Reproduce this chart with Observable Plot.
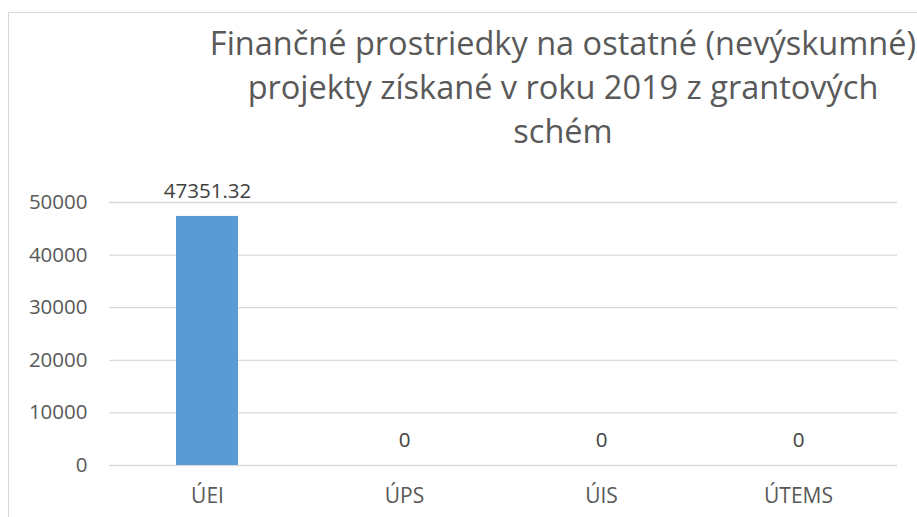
<!DOCTYPE html>
<html>
<head>
<meta charset="utf-8">
<script src="https://cdn.jsdelivr.net/npm/d3@7"></script>
<script src="https://cdn.jsdelivr.net/npm/@observablehq/plot@0.6"></script>
<style>
  body { margin: 0; background: #fff; }
  #wrap { position: relative; width: 917px; height: 517px; overflow: hidden; font-family: "Open Sans", sans-serif; }
  #frame { position: absolute; left: 8px; top: 12px; width: 1000px; height: 1000px; border-left: 1px solid #D9D9D9; border-top: 1px solid #D9D9D9; box-sizing: border-box; }
  #title { position: absolute; left: 63px; width: 1000px; top: 21px; text-align: center; color: #595959; font-size: 32.5px; line-height: 44px; white-space: nowrap; }
  #chart { position: absolute; left: 0; top: 0; }
</style>
</head>
<body>
<div id="wrap">
  <div id="frame"></div>
  <div id="chart"></div>
  <div id="title"></div>
</div>
<script>
const titleLines = ["Finančné prostriedky na ostatné (nevýskumné)", "projekty získané v roku 2019 z grantových", "schém"];
const categories = ["ÚEI", "ÚPS", "ÚIS", "ÚTEMS"];
const values = [47351.32, 0, 0, 0];
const valueLabels = ["47351.32", "0", "0", "0"];
const yTicks = [0, 10000, 20000, 30000, 40000, 50000];

const data = categories.map((c, i) => ({cat: c, value: values[i], label: valueLabels[i]}));

document.getElementById("title").innerHTML = titleLines.map(l => `<div>${l}</div>`).join("");

const chart = Plot.plot({
  width: 917,
  height: 517,
  marginLeft: 109,
  marginRight: 20,
  marginTop: 202,
  marginBottom: 52,
  style: {fontFamily: "Open Sans, sans-serif", fontSize: "21px", color: "#595959", background: "transparent", overflow: "visible"},
  x: {domain: categories, paddingInner: 0.685, paddingOuter: 0.3425, label: null},
  y: {domain: [0, 50000], label: null},
  marks: [
    Plot.ruleY(yTicks, {stroke: "#D9D9D9", strokeWidth: 1.3}),
    Plot.barY(data, {x: "cat", y: "value", fill: "#5B9BD5"}),
    Plot.text(data, {x: "cat", y: "value", text: "label", dy: -25, fill: "#404040", fontSize: 20.5}),
    Plot.axisX({tickSize: 0, tickPadding: 23, fill: "#595959", fontSize: 21}),
    Plot.axisY({ticks: yTicks, tickSize: 0, tickPadding: 22, tickFormat: d => String(d), fill: "#595959", fontSize: 20.5})
  ]
});
document.getElementById("chart").appendChild(chart);
</script>
</body>
</html>
